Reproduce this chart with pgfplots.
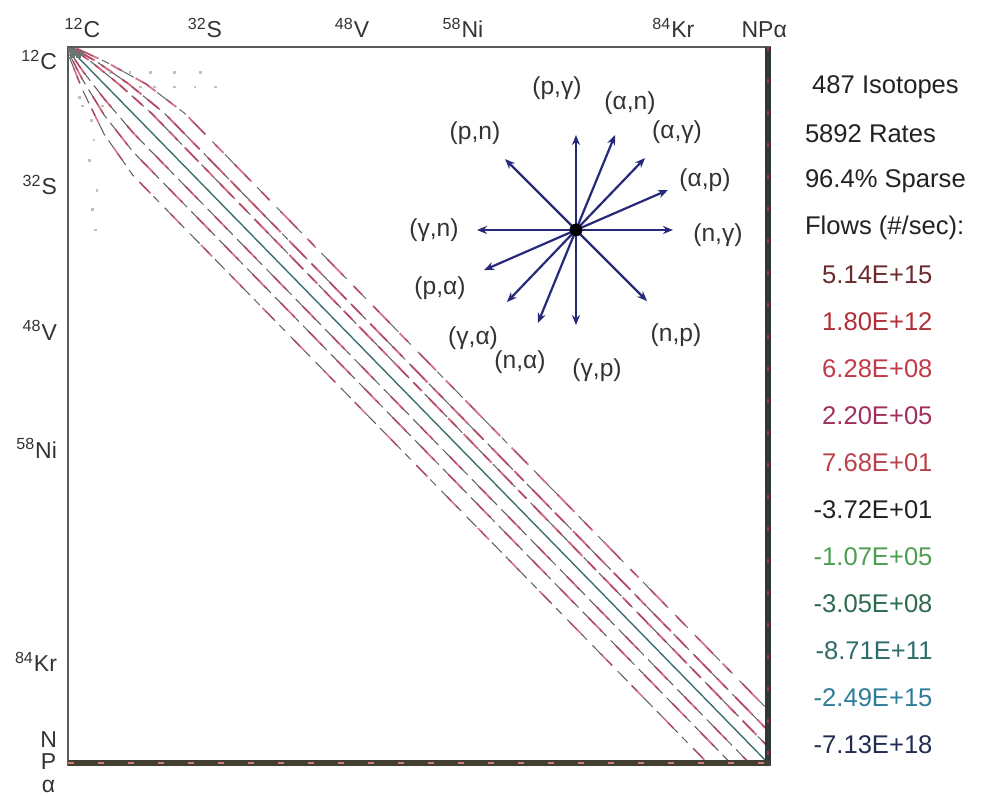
\documentclass[border=0pt]{standalone}
\usepackage{pgfplots}
\pgfplotsset{compat=1.18}
\usepackage{fontspec}
\setmainfont{Liberation Sans}
\usetikzlibrary{calc,arrows.meta}
\definecolor{navy}{HTML}{26287A}
\definecolor{bandred}{HTML}{C23A5A}
\definecolor{bandgrey}{HTML}{5A5A62}
\definecolor{diagteal}{HTML}{3A7474}
\definecolor{edgedark}{HTML}{2E3838}
\definecolor{cA}{HTML}{6A2A2E}
\definecolor{cB}{HTML}{B02E36}
\definecolor{cC}{HTML}{C23A48}
\definecolor{cD}{HTML}{A0305E}
\definecolor{cE}{HTML}{B8424C}
\definecolor{cF}{HTML}{222222}
\definecolor{cG}{HTML}{4E9E52}
\definecolor{cH}{HTML}{2E6A4E}
\definecolor{cI}{HTML}{2E6C6C}
\definecolor{cJ}{HTML}{2E7C98}
\definecolor{cK}{HTML}{222C52}
\newcommand{\lab}{\fontsize{11.5}{14}\selectfont}
\newcommand{\rt}{\fontsize{12.3}{14}\selectfont}
\newcommand{\rr}{\fontsize{12.8}{14}\selectfont}
\begin{document}
\begin{tikzpicture}
\begin{axis}[
  scale only axis, width=351pt, height=359pt,
  xmin=0, xmax=487, ymin=0, ymax=487, y dir=reverse,
  clip=false,
  axis line style={draw=black!65, line width=0.7pt},
  xtick={10,95,197,274,420,483},
  xticklabels={\textsuperscript{12}C,\textsuperscript{32}S,\textsuperscript{48}V,\textsuperscript{58}Ni,\textsuperscript{84}Kr,NPα},
  xticklabel pos=right,
  ytick={8.8,93.6,192,272,417,487},
  yticklabels={\textsuperscript{12}C,\textsuperscript{32}S,\textsuperscript{48}V,\textsuperscript{58}Ni,\textsuperscript{84}Kr,{\def\arraystretch{0.8}\begin{tabular}{@{}c@{}}N\\P\\α\end{tabular}}},
  tick style={draw=none},
  xticklabel style={font=\lab, text=black!80, yshift=1pt},
  yticklabel style={font=\lab, text=black!80, xshift=-2pt},
]
% scattered light entries near the light isotopes
\addplot[only marks, mark=square*, mark size=0.45pt, color=black!25] coordinates {
 (29,17) (43,17) (57,17) (74,17) (92,17)
 (50,27) (60,27) (74,27) (88,27) (102,27)
 (16,50) (18,63) (15,77) (20,97) (17,110) (19,124)
 (8,34) (10,40) (24,40)};
% bands: row = col + k (lower k>0, upper k<0)
\addplot[bandgrey, line width=0.5pt, dash pattern=on 7pt off 3pt on 4pt off 4pt] coordinates {(1,7) (10,29) (25,59) (45,87) (445,487)};
\addplot[bandred, line width=0.8pt, dash pattern=on 0pt off 6pt on 8pt off 8pt, opacity=0.7] coordinates {(1,7) (10,29) (25,59) (45,87) (445,487)};
\addplot[bandgrey, line width=0.5pt, dash pattern=on 9pt off 3pt on 5pt off 3pt] coordinates {(1,5) (10,22) (25,46) (45,71) (461,487)};
\addplot[bandred, line width=0.9pt, dash pattern=on 0pt off 4pt on 10pt off 6pt, opacity=0.7] coordinates {(1,5) (10,22) (25,46) (45,71) (461,487)};
\addplot[bandgrey, line width=0.5pt, dash pattern=on 10pt off 2pt on 6pt off 3pt] coordinates {(1,3) (10,16) (25,35) (45,58) (474,487)};
\addplot[bandred, line width=0.9pt, dash pattern=on 0pt off 5pt on 9pt off 7pt, opacity=0.7] coordinates {(1,3) (10,16) (25,35) (45,58) (474,487)};
\addplot[diagteal, line width=0.7pt] coordinates {(0,0) (484,484)};
\addplot[bandgrey, line width=0.4pt, dash pattern=on 3pt off 6pt, opacity=0.6] coordinates {(0,0) (484,484)};
\addplot[bandgrey, line width=0.5pt, dash pattern=on 8pt off 3pt on 5pt off 3pt] coordinates {(3,1) (16,10) (35,25) (58,45) (487,476)};
\addplot[bandred, line width=0.95pt, dash pattern=on 10pt off 4pt on 6pt off 5pt, opacity=0.75] coordinates {(3,1) (16,10) (35,25) (58,45) (487,476)};
\addplot[bandgrey, line width=0.5pt, dash pattern=on 11pt off 3pt on 4pt off 3pt] coordinates {(4,1) (20,10) (42,25) (67,45) (487,465)};
\addplot[bandred, line width=0.95pt, dash pattern=on 12pt off 4pt on 7pt off 6pt, opacity=0.75] coordinates {(4,1) (20,10) (42,25) (67,45) (487,465)};
\addplot[bandgrey, line width=0.45pt, dash pattern=on 9pt off 5pt on 4pt off 5pt] coordinates {(6,1) (26,10) (54,25) (81,45) (487,451)};
\addplot[bandred, line width=0.9pt, dash pattern=on 12pt off 7pt on 6pt off 8pt, opacity=0.7] coordinates {(6,1) (26,10) (54,25) (81,45) (487,451)};
% dense corner
\addplot[only marks, mark=square*, mark size=1pt, color=edgedark!70] coordinates {(2,2) (5,3) (3,6) (7,6) (9,4)};
% dense N, P, alpha rows and columns
\addplot[edgedark, line width=3pt] coordinates {(485.5,0) (485.5,487)};
\addplot[cD, line width=1pt, dash pattern=on 2pt off 14pt] coordinates {(485.5,0) (485.5,487)};
\addplot[black!70!olive, line width=2.8pt] coordinates {(0,485.5) (487,485.5)};
\addplot[cE!70, line width=0.8pt, dash pattern=on 3pt off 12pt] coordinates {(0,485.5) (487,485.5)};
% reaction direction key
\addplot[navy, line width=1.1pt, -{Stealth[length=5pt,width=4pt]}] coordinates {(352.4,124.1) (352.4,59.7)};
\addplot[navy, line width=1.1pt, -{Stealth[length=5pt,width=4pt]}] coordinates {(352.4,124.1) (379.5,59.7)};
\addplot[navy, line width=1.1pt, -{Stealth[length=5pt,width=4pt]}] coordinates {(352.4,124.1) (400.3,75.3)};
\addplot[navy, line width=1.1pt, -{Stealth[length=5pt,width=4pt]}] coordinates {(352.4,124.1) (416.2,97.0)};
\addplot[navy, line width=1.1pt, -{Stealth[length=5pt,width=4pt]}] coordinates {(352.4,124.1) (419.7,124.1)};
\addplot[navy, line width=1.1pt, -{Stealth[length=5pt,width=4pt]}] coordinates {(352.4,124.1) (303.2,76.0)};
\addplot[navy, line width=1.1pt, -{Stealth[length=5pt,width=4pt]}] coordinates {(352.4,124.1) (283.7,124.1)};
\addplot[navy, line width=1.1pt, -{Stealth[length=5pt,width=4pt]}] coordinates {(352.4,124.1) (288.6,151.3)};
\addplot[navy, line width=1.1pt, -{Stealth[length=5pt,width=4pt]}] coordinates {(352.4,124.1) (304.5,173.0)};
\addplot[navy, line width=1.1pt, -{Stealth[length=5pt,width=4pt]}] coordinates {(352.4,124.1) (326.0,187.2)};
\addplot[navy, line width=1.1pt, -{Stealth[length=5pt,width=4pt]}] coordinates {(352.4,124.1) (352.4,188.6)};
\addplot[navy, line width=1.1pt, -{Stealth[length=5pt,width=4pt]}] coordinates {(352.4,124.1) (401.7,172.3)};
\addplot[only marks, mark=*, mark size=3pt, color=black] coordinates {(352.4,124.1)};
\begin{scope}[every node/.style={font=\rt, text=black!80}]
\node at (axis cs:339.2,27.8) {(p,γ)};
\node at (axis cs:389.9,38.0) {(α,n)};
\node at (axis cs:422.5,57.7) {(α,γ)};
\node at (axis cs:441.9,90.2) {(α,p)};
\node at (axis cs:450.9,127.5) {(n,γ)};
\node at (axis cs:282.3,58.3) {(p,n)};
\node at (axis cs:253.9,124.1) {(γ,n)};
\node at (axis cs:258.1,163.5) {(p,α)};
\node at (axis cs:281.0,197.4) {(γ,α)};
\node at (axis cs:313.6,213.7) {(n,α)};
\node at (axis cs:367.0,219.1) {(γ,p)};
\node at (axis cs:421.8,195.3) {(n,p)};
\end{scope}
% right-hand summary
\begin{scope}[every node/.style={font=\rr, inner sep=0pt}]
\node[anchor=west, text=cF] at (axis cs:516,27.1) {487 Isotopes};
\node[anchor=west, text=cF] at (axis cs:511,59.0) {5892 Rates};
\node[anchor=west, text=cF] at (axis cs:511,90.9) {96.4\% Sparse};
\node[anchor=west, text=cF] at (axis cs:511,122.7) {Flows (\#/sec):};
\node[anchor=east, text=cA] at (axis cs:600,154.6) {5.14E+15};
\node[anchor=east, text=cB] at (axis cs:600,186.5) {1.80E+12};
\node[anchor=east, text=cC] at (axis cs:600,218.4) {6.28E+08};
\node[anchor=east, text=cD] at (axis cs:600,250.3) {2.20E+05};
\node[anchor=east, text=cE] at (axis cs:600,282.2) {7.68E+01};
\node[anchor=east, text=cF] at (axis cs:600,314.1) {-3.72E+01};
\node[anchor=east, text=cG] at (axis cs:600,345.9) {-1.07E+05};
\node[anchor=east, text=cH] at (axis cs:600,377.8) {-3.05E+08};
\node[anchor=east, text=cI] at (axis cs:600,409.7) {-8.71E+11};
\node[anchor=east, text=cJ] at (axis cs:600,441.6) {-2.49E+15};
\node[anchor=east, text=cK] at (axis cs:600,473.5) {-7.13E+18};
\end{scope}
\coordinate (BL) at (axis cs:0,487);
\coordinate (TR) at (axis cs:487,0);
\end{axis}
\pgfresetboundingbox
\path[use as bounding box] ($(BL)+(-34pt,-15pt)$) rectangle ($(TR)+(109.5pt,23.5pt)$);
\end{tikzpicture}
\end{document}
